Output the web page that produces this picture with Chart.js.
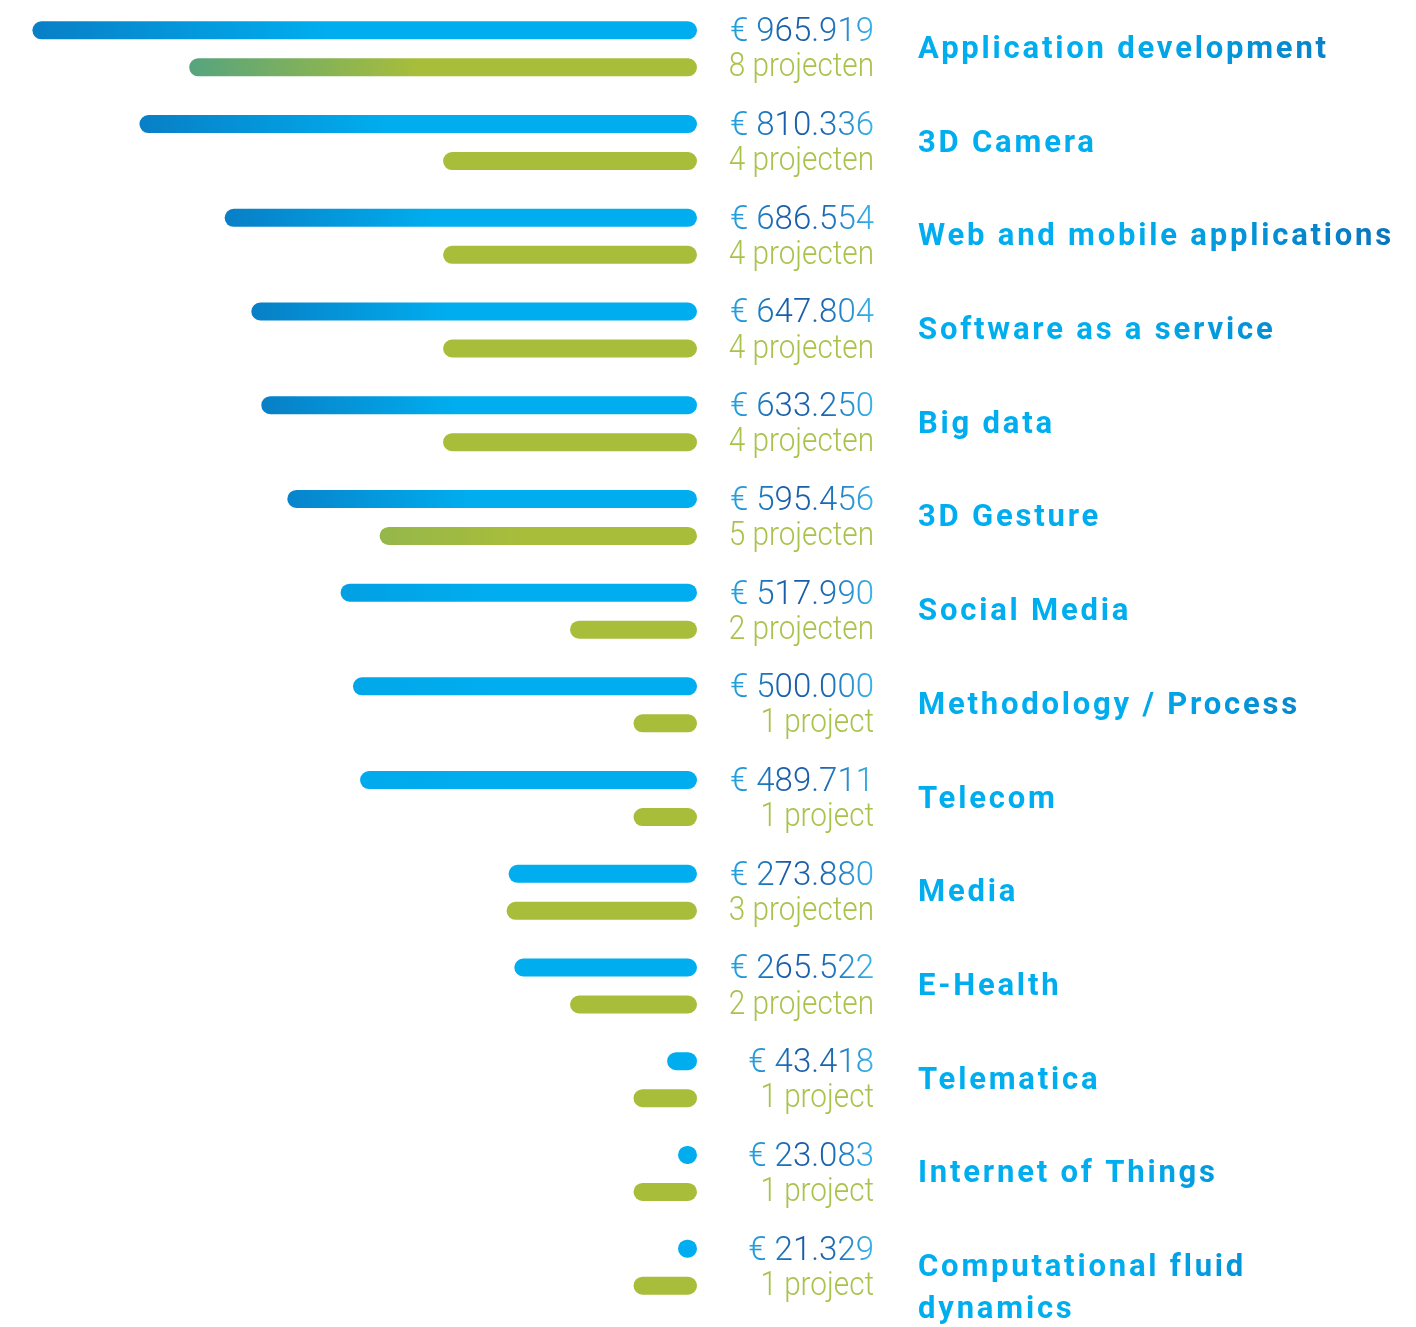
<!DOCTYPE html>
<html>
<head>
<meta charset="utf-8">
<script src="https://cdn.jsdelivr.net/npm/chart.js@4"></script>
<style>
  html, body { margin: 0; padding: 0; background: #fff; }
  #wrap { width: 1416px; height: 1327px; position: relative; }
</style>
</head>
<body>
<div id="wrap"><canvas id="topicChart"></canvas></div>
<script>
// Budget en aantal projecten per thema
const categories = [
    'Application development',
    '3D Camera',
    'Web and mobile applications',
    'Software as a service',
    'Big data',
    '3D Gesture',
    'Social Media',
    'Methodology / Process',
    'Telecom',
    'Media',
    'E-Health',
    'Telematica',
    'Internet of Things',
    ['Computational fluid', 'dynamics']
];
const amounts = [965919, 810336, 686554, 647804, 633250, 595456, 517990, 500000, 489711, 273880, 265522, 43418, 23083, 21329];
const projects = [8, 4, 4, 4, 4, 5, 2, 1, 1, 3, 2, 1, 1, 1];

const BLUE = '#00aeef';
const BLUE_DARK = '#087fc6';
const GREEN = '#a8bd3a';
const GREEN_DARK = '#55a47f';

function formatAmount(v) {
    return '€ ' + String(v).replace(/\B(?=(\d{3})+(?!\d))/g, '.');
}

function formatProjects(n) {
    return n === 1 ? '1 project' : n + ' projecten';
}

function mix(a, b, t) {
    const pa = [1, 3, 5].map(i => parseInt(a.substr(i, 2), 16));
    const pb = [1, 3, 5].map(i => parseInt(b.substr(i, 2), 16));
    const c = pa.map((v, i) => Math.round(v + (pb[i] - v) * t));
    return 'rgb(' + c.join(',') + ')';
}

// longer bars get a darker tint at their left end
function barFill(context, axisId, bright, dark, from, span) {
    const chart = context.chart;
    const scale = chart.scales[axisId];
    if (!chart.chartArea || !scale || context.raw == null) return bright;
    const left = scale.getPixelForValue(context.raw);
    const right = scale.getPixelForValue(0);
    const len = right - left;
    const t = Math.max(0, Math.min(1, (len - from) / span));
    if (t <= 0) return bright;
    const g = chart.ctx.createLinearGradient(left, 0, left + len * 0.45, 0);
    g.addColorStop(0, mix(bright, dark, t));
    g.addColorStop(1, bright);
    return g;
}

const labelPlugin = {
    id: 'rowLabels',
    afterDatasetsDraw(chart) {
        const ctx = chart.ctx;
        const blueMeta = chart.getDatasetMeta(0);
        const greenMeta = chart.getDatasetMeta(1);
        const textRight = 874;
        const catLeft = 918;

        ctx.save();
        categories.forEach((cat, i) => {
            const by = blueMeta.data[i].y;
            const gy = greenMeta.data[i].y;

            // amount
            ctx.font = '300 33px Roboto';
            ctx.letterSpacing = '0px';
            ctx.textAlign = 'right';
            ctx.textBaseline = 'alphabetic';
            const amountText = formatAmount(amounts[i]);
            const w = ctx.measureText(amountText).width;
            const ag = ctx.createLinearGradient(textRight - w, 0, textRight, 0);
            ag.addColorStop(0, '#22a6e4');
            ag.addColorStop(0.4, '#1a5aa6');
            ag.addColorStop(0.65, '#1b66b0');
            ag.addColorStop(1, '#38b6ec');
            ctx.fillStyle = ag;
            ctx.fillText(amountText, textRight, by + 11);

            // project count, a bit narrower
            ctx.save();
            ctx.translate(textRight, gy + 9);
            ctx.scale(0.9, 1);
            ctx.fillStyle = '#a9c24c';
            ctx.fillText(formatProjects(projects[i]), 0, 0);
            ctx.restore();

            // category
            ctx.font = '700 31px Roboto';
            ctx.letterSpacing = '2.8px';
            ctx.textAlign = 'left';
            const cg = ctx.createLinearGradient(1120, 0, 1400, 0);
            cg.addColorStop(0, '#00aeef');
            cg.addColorStop(1, '#0a72bb');
            ctx.fillStyle = cg;
            const mid = (by + gy) / 2;
            const lines = Array.isArray(cat) ? cat : [cat];
            lines.forEach((line, j) => {
                ctx.fillText(line, catLeft, mid + 9 + j * 42);
            });
        });
        ctx.restore();
    }
};

new Chart(document.getElementById('topicChart'), {
    type: 'bar',
    data: {
        labels: categories,
        datasets: [{
            label: 'Budget',
            data: amounts,
            xAxisID: 'x',
            backgroundColor: c => barFill(c, 'x', BLUE, BLUE_DARK, 330, 90)
        }, {
            label: 'Projecten',
            data: projects,
            xAxisID: 'x2',
            backgroundColor: c => barFill(c, 'x2', GREEN, GREEN_DARK, 260, 250)
        }]
    },
    options: {
        indexAxis: 'y',
        responsive: true,
        maintainAspectRatio: false,
        animation: false,
        layout: {
            padding: { left: 0, right: 1416 - 697, top: 2, bottom: 13 }
        },
        datasets: {
            bar: {
                categoryPercentage: 0.79,
                barPercentage: 0.486,
                borderRadius: 9,
                borderSkipped: false,
                minBarLength: 19
            }
        },
        scales: {
            y: { display: false, grid: { display: false } },
            x: { display: false, reverse: true, min: 0, max: 1013000 },
            x2: { display: false, reverse: true, min: 0, max: 10.98 }
        },
        plugins: {
            legend: { display: false },
            tooltip: { enabled: false }
        }
    },
    plugins: [labelPlugin]
});
</script>
</body>
</html>
